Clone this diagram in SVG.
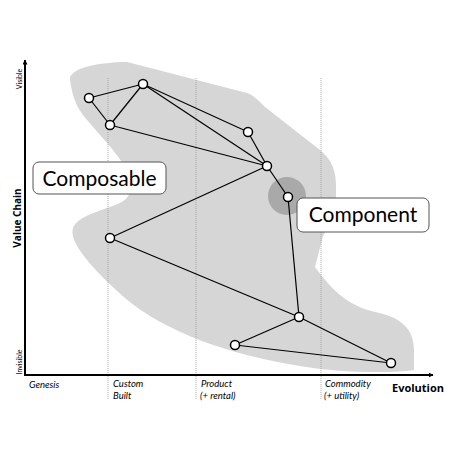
<svg xmlns="http://www.w3.org/2000/svg" width="460" height="460" viewBox="0 0 460 460">
<defs>
<style>
.grid{stroke:#a8a8a8;stroke-width:1;stroke-dasharray:1,1;fill:none}
.axis{stroke:#000;stroke-width:2;fill:none}
.edge{stroke:#000;stroke-width:1.2;fill:none}
.node{fill:#fff;stroke:#000;stroke-width:1.5}
.lab{font-family:Lato,"Open Sans",sans-serif;font-style:italic;font-size:9.5px;fill:#000}
.big{font-family:Lato,"Open Sans",sans-serif;font-size:21px;fill:#000;text-anchor:middle}
.box{fill:#fff;stroke:#555;stroke-width:1}
.bold{font-family:"Open Sans",Lato,sans-serif;font-weight:bold;fill:#000}
</style>
<marker id="arr" viewBox="0 0 10 10" refX="9" refY="5" markerWidth="5" markerHeight="5" orient="auto" markerUnits="userSpaceOnUse">
<path d="M0,0 L10,5 L0,10 Z" fill="#000"/>
</marker>
</defs>
<rect width="460" height="460" fill="#fff"/>
<path id="blob" fill="#d6d6d6" d="M70,80 C68,68 100,62 127,62 L247,93 C255,96 259,101 265,107 L320,150 C333,161 337,172 336,195 C335,214 330,224 323,236 L315,267 C330,287 345,305 375,312 C400,317 414,328 414,350 L414,370 C390,374 330,372 300,366 C230,355 165,332 125,298 C95,272 68,242 73,228 C78,215 105,210 120,203 C135,196 133,180 122,162 C110,145 95,130 83,115 C74,103 72,92 70,80 Z"/>
<circle id="highlight" cx="287" cy="196" r="19" fill="#a9a9a9"/>
<g id="gridlines">
<line class="grid" x1="108" y1="78" x2="108" y2="400"/>
<line class="grid" x1="196" y1="78" x2="196" y2="400"/>
<line class="grid" x1="321" y1="78" x2="321" y2="400"/>
</g>
<g id="axes">
<line class="axis" x1="25" y1="376" x2="25" y2="60" marker-end="url(#arr)"/>
<line class="axis" x1="24" y1="375" x2="433" y2="375" marker-end="url(#arr)"/>
<text class="bold" font-size="11" x="392" y="392">Evolution</text>
<text class="bold" font-size="10" text-anchor="middle" transform="translate(21,218) rotate(-90)">Value Chain</text>
<text font-family="Lato,'Open Sans',sans-serif" font-size="7" text-anchor="middle" transform="translate(21.5,79) rotate(-90)">Visible</text>
<text font-family="Lato,'Open Sans',sans-serif" font-size="7" text-anchor="middle" transform="translate(21.5,362) rotate(-90)">Invisible</text>
<text class="lab" x="29" y="388">Genesis</text>
<text class="lab" x="113" y="387">Custom</text>
<text class="lab" x="113" y="399">Built</text>
<text class="lab" x="201" y="387">Product</text>
<text class="lab" x="200" y="399">(+ rental)</text>
<text class="lab" x="325" y="387">Commodity</text>
<text class="lab" x="324" y="399">(+ utility)</text>
</g>
<g id="connectors">
<line class="edge" x1="89" y1="98" x2="143" y2="84"/>
<line class="edge" x1="89" y1="98" x2="110" y2="125"/>
<line class="edge" x1="143" y1="84" x2="110" y2="125"/>
<line class="edge" x1="143" y1="84" x2="248" y2="132"/>
<line class="edge" x1="143" y1="84" x2="267" y2="166"/>
<line class="edge" x1="110" y1="125" x2="267" y2="166"/>
<line class="edge" x1="248" y1="132" x2="267" y2="166"/>
<line class="edge" x1="267" y1="166" x2="288" y2="197"/>
<line class="edge" x1="267" y1="166" x2="110" y2="238"/>
<line class="edge" x1="110" y1="238" x2="299" y2="317"/>
<line class="edge" x1="288" y1="197" x2="299" y2="317"/>
<line class="edge" x1="299" y1="317" x2="235" y2="345"/>
<line class="edge" x1="299" y1="317" x2="391" y2="363"/>
<line class="edge" x1="235" y1="345" x2="391" y2="363"/>
</g>
<g id="n1"><circle class="node" cx="89" cy="98" r="4.5"/></g>
<g id="n2"><circle class="node" cx="143" cy="84" r="4.5"/></g>
<g id="n3"><circle class="node" cx="110" cy="125" r="4.5"/></g>
<g id="n4"><circle class="node" cx="248" cy="132" r="4.5"/></g>
<g id="n5"><circle class="node" cx="267" cy="166" r="4.5"/></g>
<g id="n6"><circle class="node" cx="288" cy="197" r="4.5"/></g>
<g id="n7"><circle class="node" cx="110" cy="238" r="4.5"/></g>
<g id="n8"><circle class="node" cx="299" cy="317" r="4.5"/></g>
<g id="n9"><circle class="node" cx="235" cy="345" r="4.5"/></g>
<g id="n10"><circle class="node" cx="391" cy="363" r="4.5"/></g>
<g id="composable">
<rect class="box" x="33" y="162" width="133" height="32" rx="6"/>
<text class="big" x="99.5" y="186">Composable</text>
</g>
<g id="component">
<rect class="box" x="297" y="198" width="132" height="34" rx="6"/>
<text class="big" x="363" y="222">Component</text>
</g>
</svg>
